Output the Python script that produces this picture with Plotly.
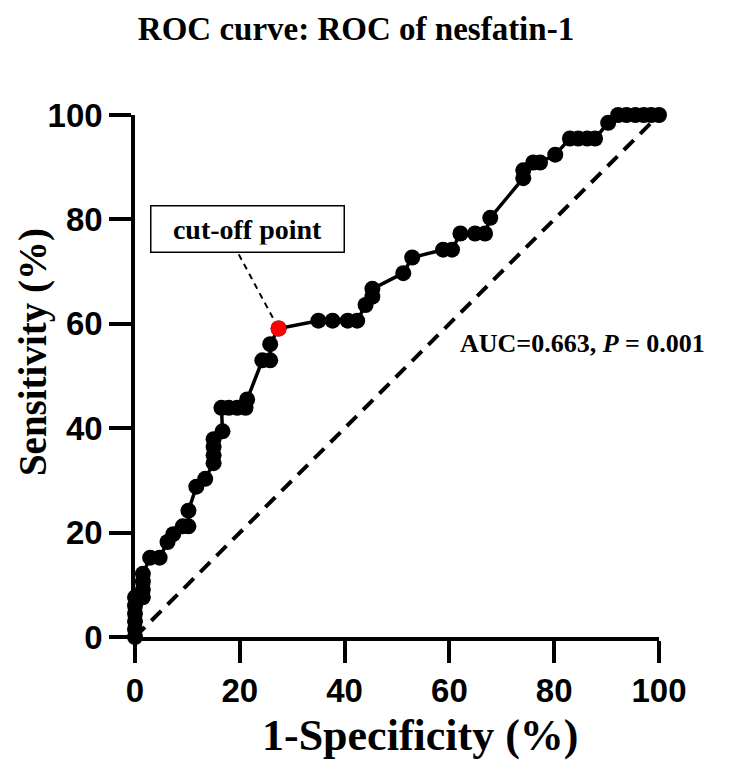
import plotly.graph_objects as go

# ROC curve points (1-Specificity %, Sensitivity %)
fpr = [0, 0, 0, 0, 0, 0, 1.5, 1.5, 1.5, 1.5, 2.9, 4.7, 6.2, 7.3, 9.1, 10.2, 10.2,
       11.7, 13.4, 15.0, 15.0, 15.0, 15.0, 16.7, 16.5, 17.9, 19.5, 21.1, 21.4,
       24.3, 25.8, 25.8, 27.4, 35.0, 37.7, 40.6, 42.4, 44.0, 45.3, 45.3,
       51.2, 52.9, 58.8, 60.5, 62.1, 64.9, 66.8, 67.8, 74.1, 74.1, 76.0, 77.3,
       80.2, 83.0, 84.6, 86.3, 87.8, 90.3, 92.2, 93.8, 95.5, 97.1, 98.5, 100]
tpr = [0, 1.5, 3.0, 4.5, 6.0, 7.6, 7.6, 9.1, 10.6, 12.1, 15.2, 15.2, 18.2, 19.7, 21.2, 21.2, 24.2,
       28.8, 30.3, 33.3, 34.8, 36.4, 37.9, 39.4, 43.9, 43.9, 43.9, 43.9, 45.5,
       53.0, 53.0, 56.1, 59.1, 60.6, 60.6, 60.6, 60.6, 63.6, 65.2, 66.7,
       69.7, 72.7, 74.2, 74.2, 77.3, 77.3, 77.3, 80.3, 87.9, 89.4, 90.9, 90.9,
       92.4, 95.5, 95.5, 95.5, 95.5, 98.5, 100, 100, 100, 100, 100, 100]
cutoff_index = 32  # red point
ref_line = [0, 100]
x_ticks = [0, 20, 40, 60, 80, 100]
y_ticks = [0, 20, 40, 60, 80, 100]

title_text = "ROC curve: ROC of nesfatin-1"
x_title = "1-Specificity (%)"
y_title = "Sensitivity (%)"
auc_text = "AUC=0.663, <i>P</i> = 0.001"
cut_text = "cut-off point"

# the page body adds an 8px offset, so the figure is drawn 8px smaller
W, H = 727, 762
L, T = 127, 107
PW, PH = 524.5, 522
R, B = W - L - PW, H - T - PH

fig = go.Figure()

fig.add_trace(go.Scatter(
    x=ref_line, y=ref_line, mode="lines",
    line=dict(color="black", width=4, dash="14px,9px"),
    cliponaxis=False, showlegend=False, hoverinfo="skip"))

fig.add_trace(go.Scatter(
    x=fpr, y=tpr, mode="lines+markers",
    line=dict(color="black", width=3.5),
    marker=dict(color="black", size=16),
    cliponaxis=False, showlegend=False))

fig.add_trace(go.Scatter(
    x=[fpr[cutoff_index]], y=[tpr[cutoff_index]], mode="markers",
    marker=dict(color="#ff0000", size=16),
    cliponaxis=False, showlegend=False))

serif = "Liberation Serif"
sans = "Liberation Sans"

# leader line from label box to cut-off point
fig.add_shape(type="line", xref="x", yref="y",
              x0=19.8, y0=73.3, x1=fpr[cutoff_index], y1=tpr[cutoff_index],
              line=dict(color="black", width=2, dash="6px,5px"), layer="below")

fig.add_annotation(x=21.4, y=78.2, xref="x", yref="y", text=cut_text,
                   showarrow=False, font=dict(family=serif, size=28, color="black", weight="bold"),
                   bordercolor="black", borderwidth=1.5, borderpad=7, bgcolor="white",
                   width=178)

fig.add_annotation(x=61.6, y=56.2, xref="x", yref="y", text=auc_text,
                   showarrow=False, xanchor="left",
                   font=dict(family=serif, size=26, color="black", weight="bold"))

# axis titles as paper-positioned annotations
fig.add_annotation(x=(412 - L) / PW, y=1 - (727 - T) / PH, xref="paper", yref="paper",
                   text=x_title, showarrow=False, xanchor="center", yanchor="middle",
                   font=dict(family=serif, size=44, color="black", weight="bold"))
fig.add_annotation(x=(25 - L) / PW, y=1 - (344 - T) / PH, xref="paper", yref="paper",
                   text=y_title, showarrow=False, textangle=-90,
                   xanchor="center", yanchor="middle",
                   font=dict(family=serif, size=39, color="black", weight="bold"))

axis_common = dict(
    range=[0, 100], showgrid=False, zeroline=False,
    showline=True, linecolor="black", linewidth=3.5,
    ticks="outside", ticklen=22, tickwidth=3.5, tickcolor="black",
    tickfont=dict(family=sans, size=33, color="black", weight="bold"),
)

fig.update_xaxes(tickvals=x_ticks, ticktext=[str(v) for v in x_ticks], **axis_common)
fig.update_yaxes(tickvals=y_ticks, ticktext=[str(v) for v in y_ticks], **axis_common)

fig.update_layout(
    width=W, height=H,
    margin=dict(l=L, r=R, t=T, b=B, autoexpand=False),
    paper_bgcolor="white", plot_bgcolor="white",
    title=dict(text=title_text, x=348 / W, xref="container", xanchor="center",
               y=1 - 20 / H, yref="container", yanchor="middle",
               font=dict(family=serif, size=33, color="black", weight="bold")),
)

fig.write_html("out.html")
